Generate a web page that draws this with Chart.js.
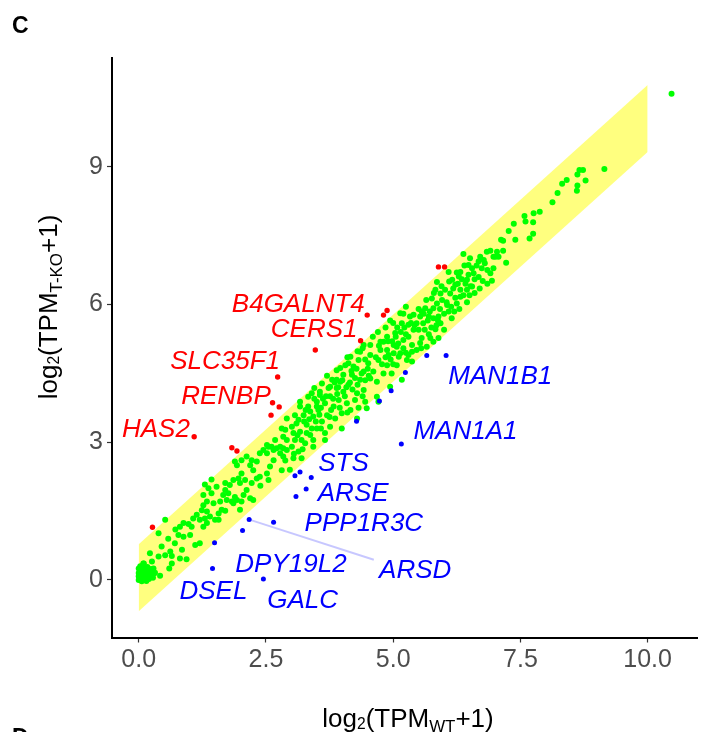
<!DOCTYPE html>
<html><head><meta charset="utf-8">
<script src="https://cdn.jsdelivr.net/npm/chart.js@4.4.1/dist/chart.umd.min.js"></script>
<style>html,body{margin:0;padding:0;background:#fff;}canvas{display:block;}</style>
</head><body>
<canvas id="c" width="707" height="732"></canvas>
<script>
const xTicks = [0, 2.5, 5, 7.5, 10];
const yTicks = [0, 3, 6, 9];
const bandX = [0, 10];
const bandLower = [-0.68, 9.32];
const bandUpper = [0.78, 10.78];

const greenOrigin = [[0,0],[0.02,0.05],[0.05,0],[0.08,0.02],[0.03,0.12],[0.1,0.08],[0.12,0],[0.15,0.05],[0.18,0.12],[0.06,0.2],[0,0.15],[0.2,0.02],[0.22,0.08],[0.25,0.15],[0.14,0.18],[0.1,0.25],[0.03,0.3],[0.17,0.28],[0.24,0.24],[0.28,0.05],[0.05,0.08],[0.12,0.12],[0.08,0.31],[0,0.08],[0.2,0.2],[0.15,-0.02],[0,0.25],[0.06,-0.03],[0.1,0.36],[0.3,0.14],[0.18,0.05],[0.04,0.18],[0.09,0.36],[0.26,0.4],[0.22,0.58],[0.29,0.25],[0.32,0.16]];
const greenLow = [[0.42,0.09],[0.39,0.51],[0.45,0.73],[0.39,1.02],[0.52,0.54],[0.52,1.31],[0.62,0.62],[0.65,0.36],[0.65,0.52],[0.71,0.8],[0.78,0.98],[0.81,1.16],[0.81,0.47],[0.85,0.66],[0.88,0.94],[0.88,1.24],[0.94,0.45],[1.01,0.98],[1.04,1.16],[1.07,1.34],[1.11,0.76],[1.14,1.42],[1.2,0.8],[1.2,1.31],[1.24,1.52],[1.27,1.16],[1.27,1.63],[1.27,1.85],[1.3,1.34],[1.3,2.08],[1.34,1.24],[1.34,1.49],[1.34,1.71],[1.37,2.0],[1.4,1.38],[1.43,1.89],[1.43,2.19],[1.47,1.67],[1.5,1.31],[1.53,2.03],[1.57,1.31],[1.57,1.45],[0.6,0.25],[0.72,1.1],[0.58,0.9],[0.98,1.22]];
const greenMidLow = [[1.6,1.71],[1.63,1.53],[1.66,1.85],[1.7,1.51],[1.7,1.96],[1.7,2.11],[1.73,1.74],[1.76,1.89],[1.79,2.07],[1.83,1.71],[1.86,1.67],[1.86,2.18],[1.89,1.81],[1.89,2.58],[1.93,1.74],[1.93,2.5],[1.96,2.21],[1.99,1.53],[1.99,2.11],[2.02,1.71],[2.02,2.32],[2.02,2.61],[2.06,1.85],[2.09,2.18],[2.12,1.96],[2.12,2.69],[2.19,1.78],[2.19,2.5],[2.22,2.11],[2.22,2.61],[2.25,1.74],[2.25,2.39],[2.32,2.21],[2.32,2.58],[2.38,2.25],[2.38,2.76],[2.39,2.05],[2.45,2.83],[2.52,2.32],[2.52,2.76],[2.52,2.94],[2.55,2.18],[2.55,2.9],[2.58,2.47],[2.61,2.9],[2.65,2.61],[2.65,2.83],[2.68,3.05],[2.71,2.87],[2.78,2.76],[2.78,2.9],[2.81,2.39],[2.81,3.3],[2.84,2.69],[2.84,3.12],[2.84,2.87],[2.88,3.27],[2.88,2.6],[2.91,2.83],[2.91,3.05],[2.91,3.52],[2.97,2.4]];
const greenMid = [[3.01,2.9],[3.01,3.34],[3.04,2.65],[3.04,3.2],[3.07,3.05],[3.07,3.59],[3.1,3.41],[3.14,2.8],[3.14,3.49],[3.17,3.23],[3.17,3.78],[3.17,3.88],[3.2,2.65],[3.24,3.59],[3.27,2.98],[3.3,3.38],[3.33,3.78],[3.33,3.99],[3.37,3.16],[3.37,3.67],[3.4,4.07],[3.43,2.9],[3.43,3.05],[3.43,3.56],[3.5,3.3],[3.5,3.78],[3.5,3.88],[3.53,3.7],[3.56,4.03],[3.56,4.1],[3.6,3.45],[3.6,4.28],[3.66,3.05],[3.66,3.2],[3.66,3.85],[3.7,3.59],[3.73,4.18],[3.76,3.34],[3.76,4.0],[3.76,4.21],[3.8,4.36],[3.83,3.78],[3.86,3.52],[3.89,4.18],[3.89,4.36],[3.89,4.57],[3.93,3.92],[3.96,4.32],[3.96,4.62],[3.99,3.3],[3.99,3.63],[4.02,4.1],[4.02,4.47],[4.06,4.68],[4.09,3.85],[4.12,4.25],[4.12,4.72],[4.16,3.7],[4.16,4.86],[4.19,4.47],[4.22,4.65],[4.25,3.92],[4.29,3.52],[4.29,4.07],[4.32,4.79],[4.35,4.36],[4.35,4.97],[4.42,4.14],[4.42,4.54],[4.42,5.12],[4.45,3.88],[4.48,3.74],[4.51,4.72],[4.55,4.39],[4.55,4.9],[4.55,5.12],[3.45,3.95],[3.7,4.45],[3.82,3.95],[3.9,4.05],[4.05,4.0],[4.08,4.2],[4.15,4.3],[4.2,4.15],[4.25,4.4],[4.3,4.25],[4.38,4.5],[4.45,4.35],[4.5,4.6],[4.52,4.45],[4.4,5.05],[4.3,4.98],[4.1,4.85],[3.55,3.6],[3.3,3.2],[3.2,3.05],[3.12,3.15],[3.25,3.45],[3.35,3.5],[3.48,3.45],[3.58,3.75],[3.68,4.0],[3.78,3.7],[3.92,4.2],[3.05,2.75],[3.22,2.85],[3.4,3.3],[3.58,3.3],[3.75,3.55],[3.95,3.75],[4.1,3.65],[4.32,3.75],[4.4,4.0],[3.62,3.95],[3.85,4.3],[4.0,4.35],[4.18,4.55],[4.28,4.6],[4.45,4.8],[3.28,3.7],[3.45,4.18]];
const greenUpper = [[4.61,4.54],[4.68,4.32],[4.68,3.99],[4.71,4.79],[4.71,3.88],[4.75,5.01],[4.75,5.19],[4.81,4.5],[4.81,5.19],[4.88,4.68],[4.88,5.01],[4.88,5.3],[4.91,4.9],[4.94,4.21],[4.94,5.65],[4.97,4.5],[5.01,4.94],[5.01,5.12],[5.04,5.38],[5.07,4.68],[5.07,5.08],[5.11,4.86],[5.14,4.94],[5.14,5.81],[5.17,4.36],[5.17,5.59],[5.2,5.05],[5.2,5.23],[5.27,4.79],[5.3,4.9],[5.3,5.56],[5.33,5.74],[5.37,4.76],[5.37,4.97],[5.37,5.12],[5.4,5.45],[5.4,5.78],[5.46,5.01],[5.46,5.59],[5.53,5.16],[5.53,5.74],[5.56,5.27],[5.56,5.85],[5.59,5.59],[5.63,5.92],[5.66,5.08],[5.7,5.74],[5.73,5.27],[5.76,6.13],[5.79,5.19],[5.79,5.7],[5.79,5.92],[5.83,5.46],[5.83,6.32],[5.86,6.02],[5.86,6.49],[5.89,5.27],[5.89,5.74],[5.93,5.59],[5.93,6.24],[5.96,6.1],[6.02,6.32],[6.06,5.99],[6.09,5.85],[6.09,6.71],[6.12,6.24],[6.16,6.54],[6.22,6.43],[6.25,6.02],[6.29,6.61],[6.32,6.17],[6.32,6.32],[6.32,6.71],[6.38,7.1],[6.45,6.32],[6.45,6.54],[6.48,6.86],[6.51,7.01],[6.55,6.39],[6.55,6.79],[6.58,6.68],[6.68,6.94],[6.71,7.04],[6.74,6.79],[6.76,6.51],[6.78,6.97],[6.84,7.15],[6.91,6.68],[6.91,7.17],[6.94,6.52],[6.97,6.79],[6.97,7.04],[7.01,7.04],[7.04,7.15],[7.07,7.04],[4.66,4.85],[4.78,4.7],[4.85,4.85],[4.95,4.8],[4.98,5.2],[5.05,5.3],[5.1,5.15],[5.15,5.4],[5.22,5.5],[5.25,5.35],[5.35,5.6],[5.42,5.55],[5.5,5.45],[5.6,5.8],[5.62,5.45],[5.68,5.65],[5.72,5.85],[5.75,5.5],[5.88,5.65],[5.92,5.9],[6.0,5.8],[6.05,6.05],[6.14,5.95],[6.18,6.35],[6.22,6.15],[6.27,6.45],[6.35,6.55],[6.38,6.2],[6.42,6.45],[6.48,6.65],[6.52,6.4],[6.6,6.55],[6.64,6.85],[6.68,6.6],[6.8,6.9],[6.85,6.75],[6.0,5.45],[6.15,5.7],[6.3,5.9],[6.45,6.05],[6.6,6.25],[4.6,5.3],[4.7,5.4],[4.85,5.5],[5.0,5.6],[5.2,5.8],[5.25,5.95],[6.7,6.35],[6.85,6.45],[4.72,5.1],[4.9,5.2],[5.08,5.5],[5.3,5.3],[5.5,5.9],[5.65,6.1],[5.8,6.25],[5.95,6.4],[6.1,6.5],[6.25,6.7],[6.4,6.85],[5.0,4.7],[5.25,4.95],[5.55,5.05],[5.7,5.35],[5.85,5.55],[6.2,5.85],[6.5,6.2]];
const greenHigh = [[7.12,7.41],[7.16,7.39],[7.16,7.17],[7.22,6.91],[7.27,7.6],[7.37,7.76],[7.4,7.41],[7.58,7.93],[7.6,7.81],[7.68,7.44],[7.75,7.54],[7.75,7.79],[7.76,7.99],[7.88,8.02],[8.13,8.23],[8.23,8.43],[8.32,8.63],[8.41,8.71],[8.61,8.48],[8.62,8.59],[8.62,8.83],[8.66,8.93],[8.73,8.93],[8.78,8.7],[9.15,8.95],[10.47,10.59]];

const redPoints = [[0.27,1.15],[1.09,3.12],[1.83,2.88],[1.93,2.81],[2.6,3.59],[2.63,3.86],[2.76,3.77],[2.73,4.42],[3.47,5.01],[4.36,5.21],[4.49,5.77],[4.81,5.77],[4.88,5.87],[5.89,6.82],[6.01,6.82]];
const bluePoints = [[1.45,0.25],[1.49,0.81],[2.04,1.08],[2.17,1.32],[2.65,1.26],[2.45,0.02],[3.09,1.82],[3.07,2.27],[3.17,2.35],[3.29,1.98],[3.39,2.23],[4.28,3.46],[4.73,3.9],[4.96,4.12],[5.16,2.96],[5.24,4.52],[5.66,4.89],[6.04,4.89]];
const arsdSegment = [[2.19,1.31],[4.62,0.44]];

const redLabels = ['B4GALNT4','CERS1','SLC35F1','RENBP','HAS2'];
const redLabelX = [3.136,3.447,1.697,1.714,0.338];
const redLabelY = [5.84,5.294,4.59,3.834,3.115];
const blueLabels = ['MAN1B1','MAN1A1','STS','ARSE','PPP1R3C','ARSD','DPY19L2','GALC','DSEL'];
const blueLabelX = [7.104,6.422,4.023,4.214,4.424,5.433,2.992,3.221,1.468];
const blueLabelY = [4.264,3.072,2.381,1.728,1.068,0.037,0.181,-0.61,-0.42];

const FONT = '"Liberation Sans", Arial, Helvetica, sans-serif';
const toXY = arr => arr.map(p => ({x: p[0], y: p[1]}));
const green = [].concat(greenOrigin, greenLow, greenMidLow, greenMid, greenUpper, greenHigh);

function drawRich(ctx, parts, x, y, size) {
  let total = 0;
  const widths = parts.map(p => {
    ctx.font = (size * p[1]) + 'px ' + FONT;
    const w = ctx.measureText(p[0]).width;
    total += w;
    return w;
  });
  let cx = x - total / 2;
  parts.forEach((p, i) => {
    ctx.font = (size * p[1]) + 'px ' + FONT;
    ctx.fillText(p[0], cx, y + p[2]);
    cx += widths[i];
  });
}

const annot = {
  id: 'annot',
  afterDraw(chart) {
    const ctx = chart.ctx;
    const xs = chart.scales.x, ys = chart.scales.y;
    ctx.save();
    ctx.textBaseline = 'alphabetic';
    ctx.textAlign = 'left';
    ctx.fillStyle = '#000';
    ctx.font = 'bold 23px ' + FONT;
    ctx.fillText('C', 12, 33);
    ctx.fillText('D', 12, 745);
    const sz = 26;
    drawRich(ctx, [['log',1,0],['2',0.6,2],['(TPM',1,0],['WT',0.65,5],['+1)',1,0]], 408, 727, sz);
    ctx.save();
    ctx.translate(57, 307);
    ctx.rotate(-Math.PI / 2);
    drawRich(ctx, [['log',1,0],['2',0.6,2],['(TPM',1,0],['T-KO',0.65,5],['+1)',1,0]], 0, 0, sz);
    ctx.restore();
    ctx.textAlign = 'center';
    ctx.font = 'italic 26px ' + FONT;
    ctx.fillStyle = '#FF0000';
    redLabels.forEach((t, i) => ctx.fillText(t, xs.getPixelForValue(redLabelX[i]), ys.getPixelForValue(redLabelY[i])));
    ctx.fillStyle = '#0000FF';
    blueLabels.forEach((t, i) => ctx.fillText(t, xs.getPixelForValue(blueLabelX[i]), ys.getPixelForValue(blueLabelY[i])));
    ctx.restore();
  }
};

const axisCommon = {
  type: 'linear',
  grid: {drawOnChartArea: false, drawTicks: true, tickLength: 5, tickColor: '#333333', tickWidth: 1.2, color: '#333333'},
  border: {display: true, color: '#000000', width: 2},
};

new Chart(document.getElementById('c'), {
  type: 'scatter',
  data: {
    datasets: [
      {type: 'line', data: bandX.map((x, i) => ({x, y: bandUpper[i]})), borderColor: 'rgba(0,0,0,0)', borderWidth: 1, pointRadius: 0, fill: '+1', backgroundColor: 'rgba(255,255,0,0.5)', order: 10},
      {type: 'line', data: bandX.map((x, i) => ({x, y: bandLower[i]})), borderColor: 'rgba(0,0,0,0)', borderWidth: 1, pointRadius: 0, fill: false, order: 10},
      {data: toXY(green), backgroundColor: '#00FF00', pointRadius: 3, borderWidth: 0, order: 5},
      {type: 'line', data: toXY(arsdSegment), borderColor: 'rgba(0,0,255,0.22)', borderWidth: 2, pointRadius: 0, fill: false, order: 4},
      {data: toXY(redPoints), backgroundColor: '#FF0000', pointRadius: 2.7, borderWidth: 0, order: 3},
      {data: toXY(bluePoints), backgroundColor: '#0000FF', pointRadius: 2.5, borderWidth: 0, order: 3}
    ]
  },
  options: {
    responsive: false,
    devicePixelRatio: 1,
    animation: false,
    events: [],
    layout: {padding: {left: 0, right: 10, top: 58, bottom: 0}},
    plugins: {legend: {display: false}, tooltip: {enabled: false}},
    scales: {
      x: Object.assign({}, axisCommon, {
        min: -0.525, max: 10.97,
        afterBuildTicks: s => { s.ticks = xTicks.map(v => ({value: v})); },
        afterFit: s => { s.height = 94.5; },
        ticks: {autoSkip: false, maxRotation: 0, padding: 3, color: '#4D4D4D', font: {size: 25, family: FONT}, callback: v => Number(v).toFixed(1)}
      }),
      y: Object.assign({}, axisCommon, {
        min: -1.253, max: 11.37,
        afterBuildTicks: s => { s.ticks = yTicks.map(v => ({value: v})); },
        afterFit: s => { s.width = 112; },
        ticks: {autoSkip: false, padding: 4, color: '#4D4D4D', font: {size: 25, family: FONT}, callback: v => String(v)}
      })
    }
  },
  plugins: [annot]
});
</script>
</body></html>
